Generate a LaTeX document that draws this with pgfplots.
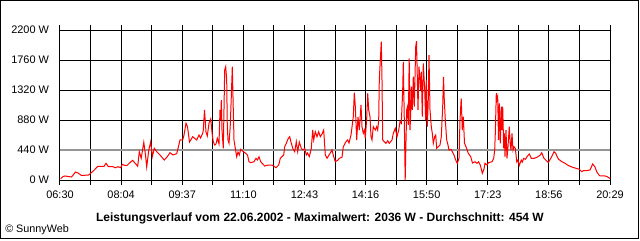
\documentclass[border=0pt]{standalone}
\usepackage{fontspec}
\setmainfont{Liberation Sans}
\usepackage{pgfplots}
\pgfplotsset{compat=1.18}
\definecolor{avggray}{RGB}{150,150,150}
\begin{document}
\begin{tikzpicture}
\path[use as bounding box] (0,0) rectangle (480pt,180pt);
\fill[white] (0,0) rectangle (480pt,180pt);
\draw[black, line width=0.75pt] (0.375pt,1.125pt) rectangle (478.875pt,179.625pt);
\begin{axis}[
  at={(45pt,45pt)}, anchor=south west,
  scale only axis, width=412.5pt, height=112.5pt,
  xmin=0, xmax=550, ymin=0, ymax=2200,
  axis line style={black, line width=0.75pt},
  xtick={0,61.111,122.222,183.333,244.444,305.556,366.667,427.778,488.889,550},
  xticklabels={06:30,08:04,09:37,11:10,12:43,14:16,15:50,17:23,18:56,20:29},
  minor xtick={30.556,91.667,152.778,213.889,275,336.111,397.222,458.333,519.444},
  ytick={0,440,880,1320,1760,2200},
  yticklabels={0 W,440 W,880 W,1320 W,1760 W,2200 W},
  grid=both,
  major grid style={black, line width=0.75pt},
  minor grid style={black, line width=0.75pt},
  tick align=outside,
  major tick length=3.75pt, minor tick length=3.75pt,
  xtick style={black, line width=0.75pt},
  ytick style={draw=none},
  tick label style={font=\fontsize{8.2}{9}\selectfont},
  /pgf/number format/assume math mode=true,
  xticklabel style={yshift=-1pt},
  yticklabel style={xshift=-1pt},
  clip=false,
]
\addplot[avggray, line width=1.5pt, forget plot] coordinates {(0,440) (550,440)};
\addplot[red, line width=0.75pt, mark=none] coordinates {
(0.7,19)(3,51)(5,59)(11.5,44)(15.5,117)(18,103)(21.5,66)(28.5,73)(31.3,107)(33.3,132)(37.8,201)(44,201)(46,245)(48.2,198)(53,195)(55.3,180)(58,195)(60.7,180)(62.3,230)(65,213)(67,213)(69.5,249)(72.5,289)(75,249)(77.7,202)(79.3,415)(81.2,318)(83.8,554)(85.5,367)(86.7,191)(88.8,440)(90.7,562)(92.3,342)(94.3,465)(96.7,415)(100,367)(104.3,293)(107,337)(110,400)(113,367)(116.7,386)(118.3,480)(120,587)(122.7,587)(124,660)(126,832)(127.5,782)(129.5,557)(132.7,635)(136.7,587)(139,660)(140.5,616)(142.7,685)(143.3,733)(144.5,1027)(146,704)(147.3,645)(149,832)(150.7,895)(152.3,660)(153.3,562)(154.7,513)(156,528)(157.3,612)(159,528)(160,1027)(160.7,880)(161.3,1173)(162,733)(162.7,587)(163.3,465)(164.7,1613)(165.7,1662)(166.7,1467)(167.3,782)(168,587)(169,538)(170.2,777)(171.3,1222)(172.3,1662)(173.3,1027)(174,587)(175.3,465)(176.7,342)(178,411)(179.3,367)(180.7,450)(183.3,415)(185.7,392)(187.5,367)(189,268)(190.7,254)(194,268)(196,318)(197.5,293)(199,342)(200.7,268)(204.7,205)(208,220)(212,220)(214.7,195)(216,180)(218.7,220)(220.3,318)(223.7,367)(224.7,488)(226.3,538)(228,601)(229.7,635)(231.3,538)(233,455)(234.7,415)(236.3,562)(237.7,415)(239.3,557)(241.3,465)(243,440)(244.7,465)(246.3,367)(247.5,396)(249.3,342)(251.3,465)(252.7,733)(253.7,587)(255.3,708)(257,635)(258.7,708)(260.3,635)(262,675)(263.7,733)(265.3,367)(267,318)(269.7,381)(272,440)(273.7,342)(275.3,268)(278,293)(279.3,318)(282,333)(283.3,488)(286,562)(287.7,587)(289,543)(291,660)(293.3,928)(294.3,1280)(295.3,1085)(296.7,587)(298,924)(299.3,733)(301,1100)(302,782)(303.3,685)(304.5,733)(305.3,612)(306.7,905)(307.7,1272)(308.7,1027)(310,928)(311,635)(312,587)(313.3,782)(315.3,733)(316.7,782)(317.7,733)(318.7,880)(319.3,1467)(320.3,1760)(321.3,2029)(322,1467)(322.7,587)(324.3,562)(326,538)(327.7,576)(329.3,538)(332,587)(333.3,685)(335.3,758)(337,635)(338.7,733)(340,855)(341.3,832)(342.7,1320)(343.3,1731)(344.3,880)(345.2,0)(345.8,440)(346.7,1027)(347.5,1075)(348.3,807)(349.2,1785)(350,733)(350.7,978)(351.3,1369)(352.3,1027)(353.3,1515)(354.3,1075)(355.7,1955)(356.5,2036)(357.3,1515)(358,1027)(359,1662)(360,1467)(360.7,1320)(361.3,1589)(362.3,928)(363.3,1711)(364.7,1320)(365.7,880)(366.3,1467)(367.3,782)(368.2,1125)(369,1833)(370,1027)(371.3,782)(372.3,685)(373.3,538)(374.7,635)(375.7,660)(376.7,465)(378.3,488)(380,513)(381.3,635)(382.7,1075)(383.5,1511)(384.3,1173)(385.3,880)(386.7,587)(388,513)(389,440)(391,450)(392.3,415)(394,367)(395.7,293)(397.3,245)(399,318)(400,880)(401.2,1198)(402.3,733)(403.3,928)(404.5,538)(406,488)(408.3,392)(410.7,342)(412.5,249)(415,268)(417,245)(418.5,268)(420.3,220)(422.3,98)(424,161)(425,245)(427,220)(428.5,254)(432,268)(433.7,318)(434.7,440)(435.3,685)(436.3,1272)(436.9,1173)(437.7,1222)(438.5,587)(439.3,1125)(440.3,538)(441.3,1075)(442,733)(442.7,1075)(443.7,465)(444.3,685)(445,342)(446,733)(447,318)(448,488)(449.3,782)(450.3,513)(451,440)(452,685)(453,440)(454,488)(455.3,465)(456.8,264)(458,293)(459.3,213)(461.3,293)(462.3,264)(463.7,318)(465.5,304)(467,342)(469.3,381)(471.3,318)(474,318)(477,333)(480.3,367)(481.7,400)(484,318)(488.3,257)(491.7,342)(494,415)(495.5,396)(498.3,308)(501.7,271)(505,245)(508.3,213)(511.7,191)(515,176)(519.3,157)(521.7,122)(523.3,136)(527,139)(530,147)(532.7,235)(535,191)(536.7,122)(539,73)(540,59)(545,59)(547,51)(550,22)
};
\end{axis}
\node[anchor=base, font=\fontsize{9}{10}\selectfont\bfseries, inner sep=0pt] at (240pt,14.25pt)
  {Leistungsverlauf vom 22.06.2002 - Maximalwert: 2036 W - Durchschnitt: 454 W};
\node[anchor=base west, font=\fontsize{8.1}{9}\selectfont, inner sep=0pt] at (3.75pt,5.4pt) {© SunnyWeb};
\end{tikzpicture}
\end{document}
